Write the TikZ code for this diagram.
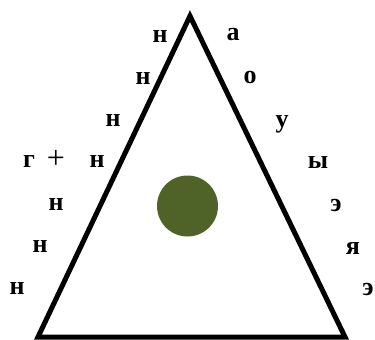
\documentclass[tikz,border=0pt]{standalone}
\usepackage{fontspec}
\setmainfont{Liberation Serif}
\usepackage{tikz}
\usepackage{xcolor}
\definecolor{olive}{RGB}{79,98,40}

\begin{document}
\begin{tikzpicture}[x=1pt,y=-1pt,every node/.style={font=\fontsize{26}{30}\selectfont\bfseries,inner sep=0pt}]
\useasboundingbox (0,0) rectangle (375,340);
\draw[line width=5pt] (190,16)--(345,337)--(38,337)--cycle;
\fill[olive] (187.5,206) circle (30.5);
\node (l1) at (160,37) {н};
\node (l2) at (143,79) {н};
\node (l3) at (113,121) {н};
\node (g) at (29,162) {г};
\node[font=\fontsize{32}{34}\selectfont] (plus) at (56,159) {+};
\node (l4) at (97,162) {н};
\node (l5) at (56,205) {н};
\node (l6) at (40,247) {н};
\node (l7) at (17,289) {н};
\node (r1) at (233,35) {а};
\node (r2) at (250,78) {о};
\node (r3) at (282,124) {у};
\node (r4) at (318,163) {ы};
\node (r5) at (336,205) {э};
\node (r6) at (353,249) {я};
\node (r7) at (368,289) {э};
\end{tikzpicture}
\end{document}
